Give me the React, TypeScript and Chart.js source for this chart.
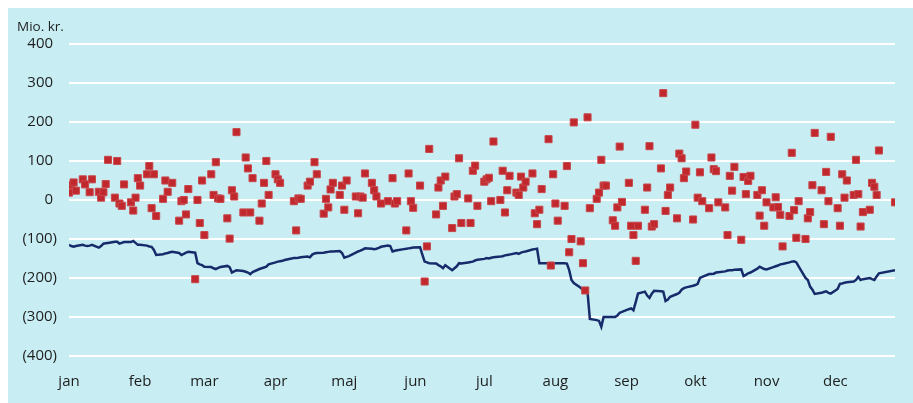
import { useEffect, useRef } from 'react';
import { Chart, registerables } from 'chart.js';

Chart.register(...registerables);

// Calendar: weekdays of 2019 (1 Jan 2019 is a Tuesday), up to 27 Dec (day-of-year 360)
const FIRST_WEEKDAY = 2;
const LAST_DAY = 360;

const monthLabels = ['jan', 'feb', 'mar', 'apr', 'maj', 'jun', 'jul', 'aug', 'sep', 'okt', 'nov', 'dec'];
const monthStartDays = [0, 31, 59, 90, 120, 151, 181, 212, 243, 273, 304, 334];

// Daily values (red squares), one entry per weekday of the month
const changeJan = [19, 38, 45, 24, 53, 40, null, 20, 53, 21, 6, 20, 41, 103, 6, 100, -9, -15, 40, -6, -27, 6, 56];
const changeFeb = [37, 66, 87, -21, 66, -41, 3, 50, 21, null, 44, -53, -3, 0, -37, 28, -203, 0, -59, 50];
const changeMar = [-90, 66, 13, 97, 4, 3, -47, -99, 25, 9, 174, -32, 109, 81, -32, 56, -53, -9, 44, 100, 13];
const changeApr = [66, 53, 44, null, null, null, -3, -78, 4, 3, 37, 47, null, 97, 66, -35, 3, -19, 27, 44, 13, 37];
const changeMay = [-25, 50, null, 9, -34, 9, 6, 68, 44, 25, 9, null, -9, -3, null, 56, -9, -3, null, -78, 68, -3, -20];
const changeJun = [37, null, -209, -119, 131, -37, 32, 50, -15, 60, -72, 9, 15, 107, -59, 4, -59, 75, 88, -15];
const changeJul = [47, 53, 57, -3, 150, 0, 75, -32, 25, 62, 19, 13, 60, 32, 47, 68, -34, -62, -25, 28, 156, -168, 66];
const changeAug = [-9, -53, -15, 87, -134, -100, 199, -106, -162, -232, 212, -21, 3, 19, 103, 37, 37, -52, -66, -19, 137, -5];
const changeSep = [44, -66, -90, -156, -66, -25, 32, 138, -68, -62, 81, 274, -28, 13, 32, -47, 119, 107, 56, 73, -50];
const changeOct = [193, 6, 71, -3, -21, 109, 79, 74, -6, -19, -90, 62, 24, 85, -102, 59, 15, 49, 62, 13, -40, 25, -66];
const changeNov = [-6, -19, 7, -18, -38, -119, -41, 121, -26, -97, -3, -100, -47, -31, 38, 172, 25, -62, 72, -3, 162];
const changeDec = [-21, -66, 66, 6, 50, 13, 103, 15, -68, -31, -25, 44, 34, 13, 127, null, null, null, null, -6];

// Level (navy line), one entry per weekday of the month
const levelJan = [-115, -118, -120, -118, -115, -117, -118, -117, -115, -122, -118, -112, -111, -110, -107, -107, -112, -110, -108, -108, -105, -110, -115];
const levelFeb = [-115, -117, -119, -120, -128, -141, -139, -137, -136, -134, -133, -136, -141, -138, -135, -133, -135, -162, -165, -167];
const levelMar = [-171, -172, -175, -177, -174, -172, -169, -172, -186, -183, -180, -182, -184, -186, -190, -185, -177, -175, -173, -171, -165];
const levelApr = [-160, -158, -157, -156, -154, -150, -149, -149, -148, -147, -145, -147, -140, -137, -136, -135, -134, -133, -132, -132, -131, -136];
const levelMay = [-148, -146, -144, -135, -132, -130, -127, -124, -125, -126, -125, -123, -120, -117, -118, -132, -130, -129, -126, -125, -124, -123, -122];
const levelJun = [-121, -140, -158, -160, -162, -163, -167, -170, -175, -167, -180, -175, -170, -162, -163, -160, -159, -158, -155, -153];
const levelJul = [-151, -149, -150, -148, -147, -145, -144, -142, -141, -140, -136, -138, -135, -133, -132, -127, -126, -125, -162, -162, -162, -163, -162];
const levelAug = [-162, -162, -162, -163, -180, -205, -213, -225, -231, -235, -236, -305, -308, -310, -325, -300, -300, -300, -300, -296, -289, -287];
const levelSep = [-280, -278, -283, -262, -240, -235, -245, -251, -240, -233, -234, -235, -259, -255, -248, -241, -238, -230, -226, -224, -220];
const levelOct = [-218, -215, -200, -197, -190, -190, -189, -186, -185, -183, -181, -180, -180, -179, -178, -195, -192, -188, -186, -176, -171, -174, -177];
const levelNov = [-178, -172, -170, -168, -165, -164, -160, -158, -157, -160, -170, -200, -205, -222, -230, -241, -238, -236, -234, -238, -240];
const levelDec = [-228, -215, -214, -212, -211, -209, -205, -197, -205, -203, -200, -203, -205, -196, -188, null, null, null, null, -180];

const Y_MIN = -400;
const Y_MAX = 400;
const Y_STEP = 100;
const UNIT_LABEL = 'Mio. kr.';

const FONT = '"Open Sans", "Noto Sans", sans-serif';
const TEXT = '#1E1E1E';

export default function App() {
  const ref = useRef<HTMLCanvasElement | null>(null);

  useEffect(() => {
    document.body.style.overflow = 'hidden';
    const days: number[] = [];
    for (let d = 0; d <= LAST_DAY; d++) {
      const wd = (d + FIRST_WEEKDAY) % 7;
      if (wd >= 1 && wd <= 5) days.push(d);
    }
    const changes = [
      ...changeJan, ...changeFeb, ...changeMar, ...changeApr, ...changeMay, ...changeJun,
      ...changeJul, ...changeAug, ...changeSep, ...changeOct, ...changeNov, ...changeDec,
    ];
    const levels = [
      ...levelJan, ...levelFeb, ...levelMar, ...levelApr, ...levelMay, ...levelJun,
      ...levelJul, ...levelAug, ...levelSep, ...levelOct, ...levelNov, ...levelDec,
    ];
    const changePts = days.map((d, i) => ({ x: d, y: changes[i] ?? null }));
    const levelPts = days.map((d, i) => ({ x: d, y: levels[i] ?? null }));

    const unitLabel = {
      id: 'unitLabel',
      afterDraw(chart: any) {
        const { ctx, chartArea } = chart;
        ctx.save();
        ctx.font = `13.5px ${FONT}`;
        ctx.fillStyle = TEXT;
        ctx.textAlign = 'left';
        ctx.textBaseline = 'alphabetic';
        ctx.fillText(UNIT_LABEL, chartArea.left - 52, chartArea.top - 13);
        ctx.restore();
      },
    };

    const chart = new Chart(ref.current as HTMLCanvasElement, {
      type: 'line',
      data: {
        datasets: [
          {
            label: 'daily',
            data: changePts as any,
            showLine: false,
            pointStyle: 'rect',
            pointRadius: 5,
            pointBackgroundColor: '#C0282D',
            pointBorderColor: '#C8484C',
            pointBorderWidth: 1,
            order: 1,
          },
          {
            label: 'level',
            data: levelPts as any,
            borderColor: '#172B6B',
            borderWidth: 2.5,
            pointRadius: 0,
            tension: 0,
            spanGaps: true,
            fill: false,
            order: 2,
          },
        ],
      },
      options: {
        responsive: false,
        animation: false,
        layout: { padding: { left: 0, right: 18, top: 36, bottom: 0 } },
        plugins: { legend: { display: false }, tooltip: { enabled: false } },
        scales: {
          x: {
            type: 'linear',
            min: 0,
            max: LAST_DAY,
            grid: { display: false, drawTicks: false },
            border: { display: false },
            afterBuildTicks: (scale: any) => {
              scale.ticks = monthStartDays.map((v) => ({ value: v }));
            },
            afterFit: (scale: any) => {
              scale.height = 47;
            },
            ticks: {
              autoSkip: false,
              maxRotation: 0,
              padding: 17,
              color: TEXT,
              font: { family: FONT, size: 15 },
              callback: (v: any) => {
                const i = monthStartDays.indexOf(Number(v));
                return i >= 0 ? monthLabels[i] : '';
              },
            },
          },
          y: {
            min: Y_MIN,
            max: Y_MAX,
            grid: { color: '#FFFFFF', lineWidth: 2, drawTicks: false },
            border: { display: false },
            afterFit: (scale: any) => {
              scale.width = 61;
            },
            ticks: {
              stepSize: Y_STEP,
              padding: 12,
              color: TEXT,
              font: { family: FONT, size: 15 },
              callback: (v: any) => {
                const n = Number(v);
                return n < 0 ? `(${Math.abs(n)})` : `${n} `;
              },
            },
          },
        },
      },
      plugins: [unitLabel],
    });
    return () => chart.destroy();
  }, []);

  return (
    <div style={{ position: 'fixed', left: 8, top: 8, width: 905, height: 395 }}>
      <canvas ref={ref} width={905} height={395} style={{ display: 'block', background: '#C8EEF4' }} />
    </div>
  );
}
